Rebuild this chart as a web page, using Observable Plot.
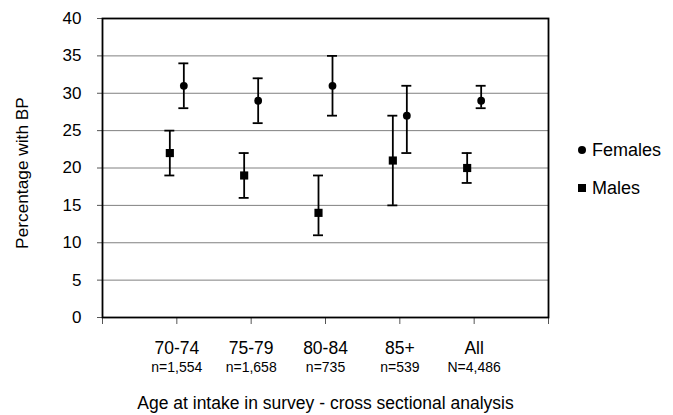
<!DOCTYPE html>
<html>
<head>
<meta charset="utf-8">
<script src="https://cdn.jsdelivr.net/npm/d3@7"></script>
<script src="https://cdn.jsdelivr.net/npm/@observablehq/plot@0.6"></script>
<style>
  body { margin: 0; background: #fff; font-family: "Liberation Sans", Arial, sans-serif; }
  #wrap { position: relative; width: 673px; height: 415px; }
  .leg { position: absolute; left: 578px; font-size: 18px; color: #000; display: flex; align-items: center; line-height: 1; }
  .leg .sym { width: 8px; height: 8px; background: #000; margin-right: 6px; }
  .leg .sym.c { border-radius: 50%; }
</style>
</head>
<body>
<div id="wrap"></div>
<script>
const categories = ["70-74", "75-79", "80-84", "85+", "All"];
const sampleSizes = ["n=1,554", "n=1,658", "n=735", "n=539", "N=4,486"];
const femaleMean = [31, 29, 31, 27, 29];
const femaleLow  = [28, 26, 27, 22, 28];
const femaleHigh = [34, 32, 35, 31, 31];
const maleMean = [22, 19, 14, 21, 20];
const maleLow  = [19, 16, 11, 15, 18];
const maleHigh = [25, 22, 19, 27, 22];
const yTicks = [0, 5, 10, 15, 20, 25, 30, 35, 40];
const xTicks = [0, 1, 2, 3, 4, 5, 6];
const yTitle = "Percentage with BP";
const xTitle = "Age at intake in survey - cross sectional analysis";

const females = categories.map((c, i) => ({cat: c, x: i + 1, mean: femaleMean[i], lo: femaleLow[i], hi: femaleHigh[i]}));
const males = categories.map((c, i) => ({cat: c, x: i + 1, mean: maleMean[i], lo: maleLow[i], hi: maleHigh[i]}));
const labels = categories.map((c, i) => ({x: i + 1, cat: c, n: sampleSizes[i]}));

const capHalf = 0.067;
function series(data, dx, symbol, r) {
  return [
    Plot.ruleX(data, {x: "x", y1: "lo", y2: "hi", dx, stroke: "#000", strokeWidth: 1.8}),
    Plot.ruleY(data, {y: "hi", x1: d => d.x - capHalf, x2: d => d.x + capHalf, dx, stroke: "#000", strokeWidth: 1.8}),
    Plot.ruleY(data, {y: "lo", x1: d => d.x - capHalf, x2: d => d.x + capHalf, dx, stroke: "#000", strokeWidth: 1.8}),
    Plot.dot(data, {x: "x", y: "mean", dx, symbol, r, fill: "#000", stroke: "none"})
  ];
}

const chart = Plot.plot({
  width: 673,
  height: 415,
  marginLeft: 102,
  marginRight: 125,
  marginTop: 18,
  marginBottom: 98,
  style: {fontFamily: "'Liberation Sans', Arial, sans-serif", fontSize: "17px", color: "#000", background: "#fff"},
  x: {domain: [0, 6]},
  y: {domain: [0, 40]},
  marks: [
    Plot.gridY(yTicks.filter(t => t > 0 && t < 40), {stroke: "#808080", strokeOpacity: 1, strokeWidth: 1}),
    Plot.axisY(yTicks, {tickSize: 5, tickPadding: 16, label: null, fontSize: 17, stroke: "#555", fill: "#000"}),
    Plot.axisX(xTicks, {tickSize: 7, tickFormat: () => "", label: null, stroke: "#555"}),
    Plot.frame({stroke: "#000", strokeWidth: 1.8}),
    ...series(females, 7, "circle", 3.9),
    ...series(males, -7, "square", 4.6),
    Plot.text(labels, {x: "x", text: "cat", frameAnchor: "bottom", dy: 31, fontSize: 17.5, lineAnchor: "middle"}),
    Plot.text(labels, {x: "x", text: "n", frameAnchor: "bottom", dy: 50, fontSize: 14, lineAnchor: "middle"}),
    Plot.text([xTitle], {frameAnchor: "bottom", dy: 86, fontSize: 17.5, lineAnchor: "middle"}),
    Plot.text([yTitle], {frameAnchor: "left", textAnchor: "middle", dx: -80, dy: 5, rotate: -90, fontSize: 17.3, lineAnchor: "middle"})
  ]
});

const wrap = document.getElementById("wrap");
wrap.appendChild(chart);

const legendItems = [{label: "Females", cls: "sym c", top: 141}, {label: "Males", cls: "sym", top: 179}];
legendItems.forEach(it => {
  const d = document.createElement("div");
  d.className = "leg";
  d.style.top = it.top + "px";
  d.innerHTML = `<span class="${it.cls}"></span><span>${it.label}</span>`;
  wrap.appendChild(d);
});
</script>
</body>
</html>
